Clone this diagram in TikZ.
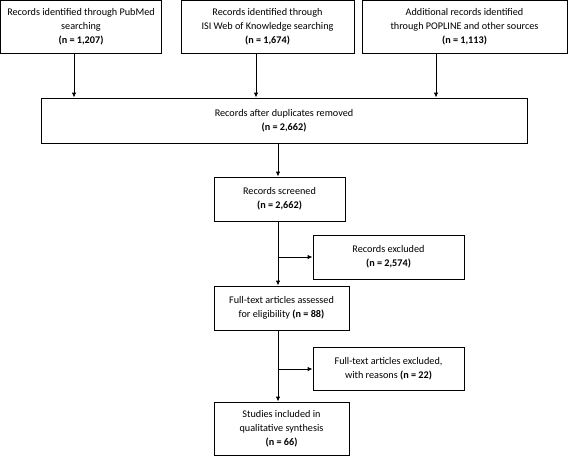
\documentclass[tikz,border=0pt]{standalone}
\usepackage{fontspec}
\setmainfont{Carlito}
\usetikzlibrary{positioning,arrows.meta}

\tikzset{
  box/.style={draw, line width=0.9pt, align=center, inner sep=0pt,
    font=\fontsize{10.2}{14}\selectfont},
  arr/.style={line width=0.9pt, -{Latex[length=5pt,width=4.5pt]}}
}

\begin{document}
\begin{tikzpicture}[x=1pt, y=-1pt]
\useasboundingbox (0,0) rectangle (568,456);

\def\ytop{26.5}

% sources
\node[box, minimum width=161pt, minimum height=53pt] (pubmed) at (81, \ytop)
  {Records identified through PubMed\\searching\\\textbf{(n = 1,207)}};
\node[box, minimum width=173pt, minimum height=53pt] (isi) at (267.5, \ytop)
  {Records identified through\\ISI Web of Knowledge searching\\\textbf{(n = 1,674)}};
\node[box, minimum width=205pt, minimum height=53pt] (popline) at (464.5, \ytop)
  {Additional records identified\\through POPLINE and other sources\\\textbf{(n = 1,113)}};

\node[box, minimum width=486pt, minimum height=45pt] (dup) at (284, 120.5)
  {Records after duplicates removed\\\textbf{(n = 2,662)}};

% screening
\node[box, minimum width=131pt, minimum height=44pt] (screen) at (279.5, 199)
  {Records screened\\\textbf{(n = 2,662)}};
\node[box, minimum width=151pt, minimum height=44pt] (excl) at (388.5, 257)
  {Records excluded\\\textbf{(n = 2,574)}};
\node[box, minimum width=135pt, minimum height=44pt] (full) at (281.5, 308)
  {Full-text articles assessed\\for eligibility \textbf{(n = 88)}};
\node[box, minimum width=151pt, minimum height=43pt] (fullex) at (388.5, 369)
  {Full-text articles excluded,\\with reasons \textbf{(n = 22)}};
\node[box, minimum width=135pt, minimum height=53pt] (incl) at (281.5, 428.5)
  {Studies included in\\qualitative synthesis\\\textbf{(n = 66)}};

\draw[arr] ([xshift=-7pt]pubmed.south) -- ([xshift=-7pt]pubmed.south |- dup.north);
\draw[arr] ([xshift=-11.5pt]isi.south) -- ([xshift=-11.5pt]isi.south |- dup.north);
\draw[arr] ([xshift=-28.5pt]popline.south) -- ([xshift=-28.5pt]popline.south |- dup.north);

\draw[arr] ([xshift=-1.5pt]screen.north |- dup.south) -- ([xshift=-1.5pt]screen.north);
\draw[arr] ([xshift=-1.5pt]screen.south) -- ([xshift=-1.5pt]screen.south |- full.north);
\coordinate (b1) at ([xshift=-1.5pt]screen.south |- excl.west);
\draw[arr] (b1) -- (excl.west);
\draw[arr] ([xshift=-3.5pt]full.south) -- ([xshift=-3.5pt]full.south |- incl.north);
\coordinate (b2) at ([xshift=-3.5pt]full.south |- fullex.west);
\draw[arr] (b2) -- (fullex.west);
\end{tikzpicture}
\end{document}
